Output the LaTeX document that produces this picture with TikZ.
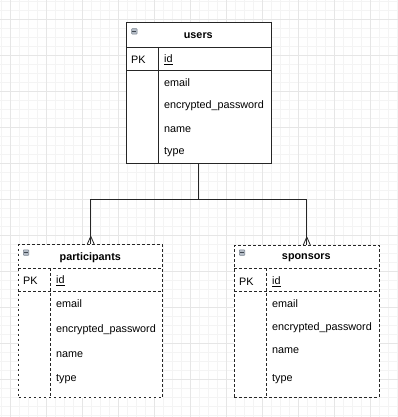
\documentclass[tikz,border=0pt]{standalone}
\usepackage{fontspec}
\setmainfont{Liberation Sans}
\usetikzlibrary{calc}
\definecolor{gmajor}{HTML}{E6E6E6}
\definecolor{gminor}{HTML}{F4F4F4}
\definecolor{icongray}{HTML}{B4BCC6}
\definecolor{icondark}{HTML}{7A8490}
\definecolor{iconbar}{HTML}{404850}
\tikzset{
  tbl/.style={draw=black!85, line width=0.9pt, anchor=north west, inner sep=0pt},
  dtbl/.style={tbl, dash pattern=on 2.6pt off 2.4pt},
  sep/.style={draw=black!85, line width=0.9pt},
  dsep/.style={sep, dash pattern=on 2.6pt off 2.4pt},
  fld/.style={anchor=west, inner sep=0pt, font=\fontsize{10.8}{12}\selectfont, text=black},
  hdr/.style={anchor=center, inner sep=0pt, font=\fontsize{10.8}{12}\selectfont\bfseries, text=black},
  conn/.style={draw=black!85, line width=0.9pt},
  icon/.style={draw=icondark, fill=icongray, line width=0.5pt, rounded corners=0.8pt, minimum width=5.6pt, minimum height=5.6pt, inner sep=0pt, anchor=north west},
  ibar/.style={draw=iconbar, line width=1pt}
}
\begin{document}
\begin{tikzpicture}[x=1pt,y=-1pt]
\useasboundingbox (0,0) rectangle (398,417);
\fill[white] (0,0) rectangle (398,417);
% grid
\foreach \i in {0,...,46} {
  \draw[gminor, line width=0.5pt] (0,{1.3+9*\i}) -- (398,{1.3+9*\i});
  \draw[gminor, line width=0.5pt] ({1+9*\i},0) -- ({1+9*\i},417);
}
\foreach \i in {0,...,11} {
  \draw[gmajor, line width=0.7pt] ({10+36*\i},0) -- ({10+36*\i},417);
  \draw[gmajor, line width=0.7pt] (0,{19.3+36*(\i-1)}) -- (398,{19.3+36*(\i-1)});
}

% users table
\node[tbl, minimum width=144.5pt, minimum height=140.5pt, fill=white] (users) at (126,22.5) {};
\draw[sep] (126,47) -- (270.5,47);
\draw[sep] (126,70.7) -- (270.5,70.7);
\draw[sep] (158.7,47) -- (158.7,163);
\node[icon] (uicon) at (131.3,28.3) {};
\draw[ibar] ($(uicon.center)+(-2,0)$) -- ($(uicon.center)+(2,0)$);
\node[hdr] (uh) at (198.3,35.5) {users};
\node[fld] (upk) at (131,59.5) {PK};
\node[fld] (uid) at (164,59.5) {\underline{id}};
\node[fld] (uemail) at (164,82.5) {email};
\node[fld] (upw) at (164,106) {encrypted\_password};
\node[fld] (uname) at (164,129.5) {name};
\node[fld] (utype) at (164,152.5) {type};

% participants table
\node[dtbl, minimum width=144pt, minimum height=153pt, fill=white] (participants) at (18.3,244.3) {};
\draw[dsep] (18.3,268.3) -- (162.3,268.3);
\draw[dsep] (18.3,291.7) -- (162.3,291.7);
\draw[dsep] (50.7,268.3) -- (50.7,397.3);
\node[icon] (picon) at (23,249.5) {};
\draw[ibar] ($(picon.center)+(-2,0)$) -- ($(picon.center)+(2,0)$);
\node[hdr] (ph) at (90.3,257.5) {participants};
\node[fld] (ppk) at (23,280.5) {PK};
\node[fld] (pid) at (56,280.5) {\underline{id}};
\node[fld] (pemail) at (56,303.5) {email};
\node[fld] (ppw) at (56,329.5) {encrypted\_password};
\node[fld] (pname) at (56,354.5) {name};
\node[fld] (ptype) at (56,379.5) {type};

% sponsors table
\node[dtbl, minimum width=144.7pt, minimum height=151.7pt, fill=white] (sponsors) at (234,245) {};
\draw[dsep] (234,268.3) -- (378.7,268.3);
\draw[dsep] (234,291.3) -- (378.7,291.3);
\draw[dsep] (266.7,268.3) -- (266.7,396.7);
\node[icon] (sicon) at (239,249.5) {};
\draw[ibar] ($(sicon.center)+(-2,0)$) -- ($(sicon.center)+(2,0)$);
\node[hdr] (sh) at (306.3,257.5) {sponsors};
\node[fld] (spk) at (239,281.5) {PK};
\node[fld] (sid) at (272,281.5) {\underline{id}};
\node[fld] (semail) at (272,303.5) {email};
\node[fld] (spw) at (272,327.5) {encrypted\_password};
\node[fld] (sname) at (272,350.5) {name};
\node[fld] (stype) at (272,379.5) {type};

% connectors
\coordinate (mid) at (users.south |- 0,199.7);
\draw[conn] (users.south) -- (mid);
\draw[conn] (mid) -| (participants.north);
\draw[conn] (mid) -| (sponsors.north);
% crow's feet
\draw[conn, line width=0.8pt] ($(participants.north)+(0,-8)$) -- ($(participants.north)+(-3.5,0)$);
\draw[conn, line width=0.8pt] ($(participants.north)+(0,-8)$) -- ($(participants.north)+(3.5,0)$);
\draw[conn, line width=0.8pt] ($(sponsors.north)+(0,-8)$) -- ($(sponsors.north)+(-3.5,0)$);
\draw[conn, line width=0.8pt] ($(sponsors.north)+(0,-8)$) -- ($(sponsors.north)+(3.5,0)$);
\end{tikzpicture}
\end{document}
